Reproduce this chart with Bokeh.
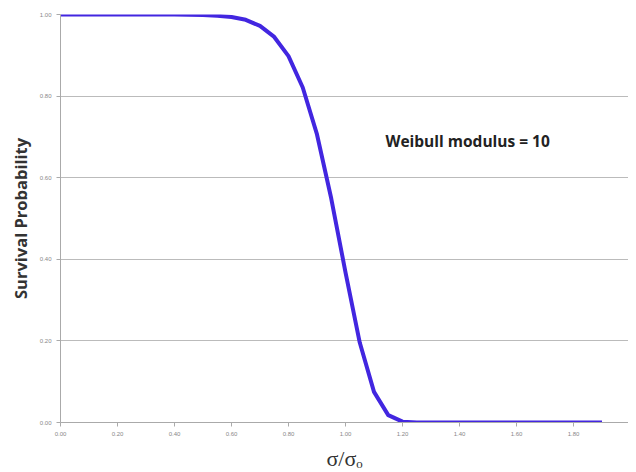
from bokeh.plotting import figure
from bokeh.models import Range1d, NumeralTickFormatter, FixedTicker, Label
from bokeh.embed import file_html
from bokeh.resources import INLINE

# Data
stress_ratio = [0.00, 0.10, 0.20, 0.30, 0.40, 0.50, 0.55, 0.60, 0.65, 0.70, 0.75,
                0.80, 0.85, 0.90, 0.95, 1.00, 1.05, 1.10, 1.15, 1.20, 1.25,
                1.30, 1.40, 1.50, 1.60, 1.70, 1.80, 1.90]
survival = [1.000, 1.000, 1.000, 1.000, 1.000, 0.999, 0.997, 0.994, 0.987, 0.972, 0.945,
            0.898, 0.821, 0.706, 0.549, 0.368, 0.196, 0.075, 0.018, 0.002, 0.000,
            0.000, 0.000, 0.000, 0.000, 0.000, 0.000, 0.000]
x_ticks = [0.0, 0.2, 0.4, 0.6, 0.8, 1.0, 1.2, 1.4, 1.6, 1.8, 2.0]
y_ticks = [0.0, 0.2, 0.4, 0.6, 0.8, 1.0]
annotation = "Weibull modulus = 10"

p = figure(frame_width=568, frame_height=408, output_backend="svg", toolbar_location=None,
           x_range=Range1d(0, 1.993), y_range=Range1d(0, 1.0),
           min_border_left=60, min_border_right=0, min_border_top=14, min_border_bottom=8)
p.outline_line_color = None
p.background_fill_color = "white"

p.line(stress_ratio, survival, line_color="#4226e0", line_width=4, line_join="round")

p.xaxis.ticker = FixedTicker(ticks=x_ticks)
p.yaxis.ticker = FixedTicker(ticks=y_ticks)
p.xaxis.formatter = NumeralTickFormatter(format="0.00")
p.yaxis.formatter = NumeralTickFormatter(format="0.00")
for ax in (p.xaxis, p.yaxis):
    ax.major_label_text_font_size = "6px"
    ax.major_label_text_color = "#888888"
    ax.axis_line_color = "#aaaaaa"
    ax.major_tick_line_color = "#aaaaaa"
    ax.minor_tick_line_color = None
    ax.major_tick_in = 0
    ax.major_tick_out = 4

p.xgrid.grid_line_color = None
p.ygrid.grid_line_color = "#bbbbbb"

p.yaxis.axis_label = "Survival Probability"
p.yaxis.axis_label_text_font = "Open Sans"
p.yaxis.axis_label_text_font_style = "bold"
p.yaxis.axis_label_text_font_size = "16.5px"
p.yaxis.axis_label_text_color = "#333333"
p.yaxis.axis_label_standoff = 5

p.xaxis.axis_label = "σ/σₒ"
p.xaxis.axis_label_text_font = "Liberation Serif"
p.xaxis.axis_label_text_font_style = "normal"
p.xaxis.axis_label_text_font_size = "22px"
p.xaxis.axis_label_text_color = "#333333"
p.xaxis.axis_label_standoff = 7

p.add_layout(Label(x=1.14, y=0.689, text=annotation, text_font="Open Sans",
                   text_font_style="bold", text_font_size="15.5px",
                   text_color="#222222", text_baseline="middle"))

open("out.html", "w").write(file_html(p, INLINE))
